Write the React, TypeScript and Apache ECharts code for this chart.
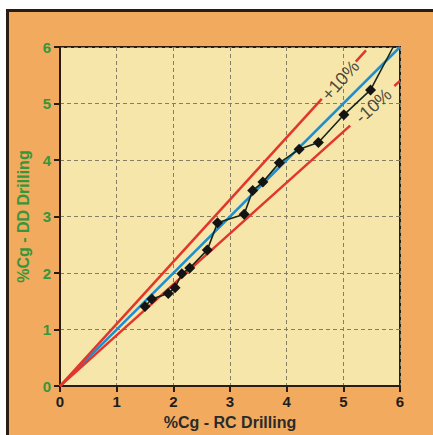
import React, { useEffect, useRef } from "react";
import * as echarts from "echarts";

const axisTicks = [0, 1, 2, 3, 4, 5, 6];
const xAxisTitle = "%Cg - RC Drilling";
const yAxisTitle = "%Cg - DD Drilling";

// RC (x) vs DD (y) grade pairs
const rcValues = [1.5, 1.62, 1.91, 2.03, 2.15, 2.29, 2.6, 2.78, 3.25, 3.4, 3.58, 3.87, 4.22, 4.56, 5.01, 5.48];
const ddValues = [1.41, 1.54, 1.64, 1.74, 1.99, 2.09, 2.41, 2.89, 3.04, 3.46, 3.61, 3.95, 4.19, 4.31, 4.8, 5.24];
const lineEnd = [5.88, 6.0];

// reference lines
const equalLine = [[0, 0], [6, 6]];
const plusTenSolid = [[0, 0], [4.62, 5.082]];
const plusTenDash = [[5.22, 5.742], [5.4, 5.94]];
const minusTenSolid = [[0, 0], [5.12, 4.608]];
const minusTenDash = [[5.9, 5.31], [6.0, 5.4]];
const plusLabel = { text: "+10%", at: [4.95, 5.41] };
const minusLabel = { text: "-10%", at: [5.53, 4.96] };

const RED = "#e1362b";
const BLUE = "#1b8fd2";
const DARK = "#2a1c12";
const GREEN = "#35963a";
const FONT = "Liberation Sans, Arial, sans-serif";

export default function App() {
  const ref = useRef<HTMLDivElement>(null);
  useEffect(() => {
    if (!ref.current) return;
    const chart = echarts.init(ref.current, undefined, { renderer: "svg" });
    const blackData = rcValues.map((x, i) => [x, ddValues[i]]);
    const lineData = [...blackData, { value: lineEnd, symbol: "none" }];
    const redLine = (data: number[][], name: string) => ({
      type: "line",
      name,
      data,
      symbol: "none",
      lineStyle: { color: RED, width: 2.5 },
      z: 3,
    });
    const pctLabel = (lab: { text: string; at: number[] }, rot: number) => ({
      type: "scatter",
      data: [lab.at],
      symbol: "circle",
      symbolSize: 2,
      itemStyle: { color: "rgba(0,0,0,0)" },
      label: {
        show: true,
        position: "inside",
        formatter: lab.text,
        rotate: rot,
        color: "#222",
        fontSize: 18,
        fontFamily: FONT,
      },
      z: 6,
    });
    chart.setOption({
      animation: false,
      backgroundColor: "transparent",
      grid: {
        left: 60,
        top: 47,
        width: 340,
        height: 340,
        show: true,
        backgroundColor: "#f6e6aa",
        borderColor: DARK,
        borderWidth: 2,
      },
      xAxis: {
        type: "value",
        min: 0,
        max: 6,
        interval: 1,
        name: xAxisTitle,
        nameLocation: "middle",
        nameGap: 23,
        nameTextStyle: { color: "#2a2a2a", fontWeight: "bold", fontSize: 16, fontFamily: FONT },
        axisLine: { lineStyle: { color: DARK, width: 2 } },
        axisTick: { show: true, length: 6, lineStyle: { color: DARK, width: 2 } },
        axisLabel: {
          color: "#1e1e1e",
          fontWeight: "bold",
          fontSize: 15,
          margin: 8,
          fontFamily: FONT,
          formatter: (v: number) => String(axisTicks[v] ?? v),
        },
        splitLine: { show: true, lineStyle: { color: "#857d66", type: [4, 3], width: 1 } },
      },
      yAxis: {
        type: "value",
        min: 0,
        max: 6,
        interval: 1,
        name: yAxisTitle,
        nameLocation: "middle",
        nameGap: 27,
        nameTextStyle: { color: GREEN, fontWeight: "bold", fontSize: 16, fontFamily: FONT },
        axisLine: { lineStyle: { color: DARK, width: 2 } },
        axisTick: { show: true, length: 6, lineStyle: { color: DARK, width: 2 } },
        axisLabel: {
          color: GREEN,
          fontWeight: "bold",
          fontSize: 15,
          margin: 9,
          fontFamily: FONT,
          formatter: (v: number) => String(axisTicks[v] ?? v),
        },
        splitLine: { show: true, lineStyle: { color: "#857d66", type: [4, 3], width: 1 } },
      },
      series: [
        {
          type: "line",
          data: equalLine,
          symbol: "none",
          lineStyle: { color: BLUE, width: 2.5 },
          z: 2,
        },
        redLine(plusTenSolid, "+10"),
        redLine(plusTenDash, "+10d"),
        redLine(minusTenSolid, "-10"),
        redLine(minusTenDash, "-10d"),
        {
          type: "line",
          data: lineData,
          symbol: "diamond",
          symbolSize: 11,
          showSymbol: true,
          itemStyle: { color: "#141414" },
          lineStyle: { color: "#17261a", width: 1.6 },
          z: 5,
        },
        pctLabel(plusLabel, 48),
        pctLabel(minusLabel, 42),
      ],
    });
    return () => chart.dispose();
  }, []);
  return (
    <div style={{ position: "absolute", left: 0, top: 0, width: 433, height: 435, background: "#fff", overflow: "hidden" }}>
      <div
        style={{
          position: "absolute",
          left: 6,
          top: 9,
          width: 440,
          height: 440,
          background: "#f1aa5e",
          border: `3px solid ${DARK}`,
        }}
      />
      <div ref={ref} style={{ position: "absolute", left: 0, top: 0, width: 433, height: 435 }} />
    </div>
  );
}
